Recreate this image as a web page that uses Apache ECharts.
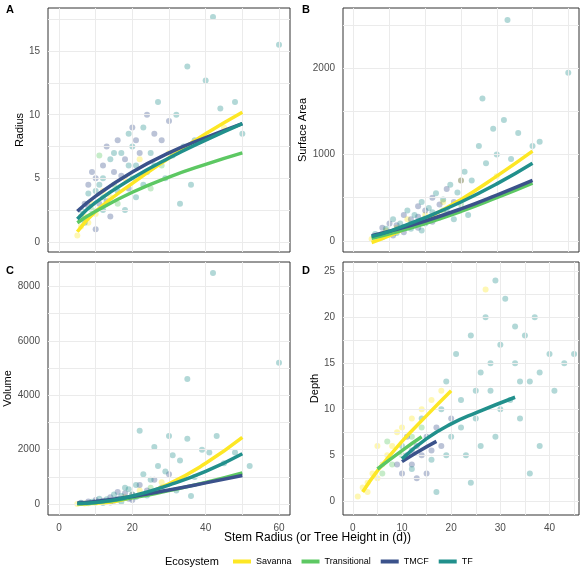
<!DOCTYPE html><html><head><meta charset="utf-8"><script src="https://cdn.jsdelivr.net/npm/echarts@6/dist/echarts.min.js"></script>
<style>html,body{margin:0;background:#fff}#c{width:587px;height:573px}</style></head><body><div id="c"></div><script>
const ecosystems=['Savanna','Transitional','TMCF','TF'];
const colors=['#FDE725','#5DC863','#3B528B','#21908C'];
const fitX=[5,10,20,30,40,50];
const fitA=[[0.8,2.4,4.6,6.6,8.5,10.2],[1.5,2.4,3.9,5.1,6.1,7.0],[2.4,3.6,5.5,7,8.2,9.3],[1.8,3.1,5,6.6,8,9.3]];
const fitB=[[-20,60,250,480,750,1040],[30,80,200,340,500,670],[60,110,230,370,530,700],[50,110,270,450,660,900]];
const fitC=[[0,30,250,750,1500,2450],[10,50,230,500,800,1150],[40,100,280,520,780,1050],[20,60,300,700,1200,1850]];
const fitD=[[[2,1],[5,3.3],[10,6.5],[15,9.3],[20,12]],[[5,3.5],[10,5.5],[14,7]],[[10,4.3],[13,5.3],[17,6.5]],[[10,4.6],[15,6.8],[20,8.4],[25,9.6],[33,11.3]]];
const ptsA=[[5,0.5,0],[6,1.2,0],[7,2,0],[8,1.5,0],[9,3,0],[10,2.2,0],[12,4,0],[14,3.5,0],[18,5,0],[22,6.5,0],[30,7,0],[45,9,0],[6,2,1],[9,2.5,1],[12,3.5,1],[15,4.5,1],[20,5,1],[25,4.2,1],[28,6,1],[7,3,2],[8,4.5,2],[10,5,2],[11,3,2],[12,6,2],[13,7.5,2],[15,5.5,2],[16,8,2],[18,6.5,2],[20,9,2],[22,7,2],[24,10,2],[26,8.5,2],[30,9.5,2],[10,1,2],[14,2,2],[6,2.5,3],[8,3.8,3],[10,4,3],[12,5,3],[14,6.5,3],[16,4,3],[17,7,3],[19,8.5,3],[21,6,3],[23,9,3],[25,7,3],[27,11,3],[29,5,3],[32,10,3],[35,13.8,3],[37,8,3],[40,12.7,3],[42,17.7,3],[44,10.5,3],[48,11,3],[50,8.5,3],[60,15.5,3],[33,3,3],[36,4.5,3],[18,2.5,3],[21,3.5,3],[24,5.5,3],[11,6.8,1],[19,4.2,2],[26,6,3],[9,5.5,2],[11,4.5,3],[13,3.2,2],[15,7,3],[17,5.2,2],[19,6,3],[21,8,2],[23,4.5,3],[8,2.8,2],[16,3,1],[20,7.5,3],[28,8,2],[31,6.8,3],[34,7.5,3],[12,2.5,3],[7,1.5,3]];
const ptsB=[[5,20,0],[7,60,0],[9,120,0],[12,150,0],[15,250,0],[20,300,0],[25,450,0],[30,700,0],[40,750,0],[8,80,1],[12,130,1],[16,200,1],[20,260,1],[25,350,1],[30,420,1],[6,50,2],[8,150,2],[10,200,2],[12,180,2],[14,300,2],[16,250,2],[18,400,2],[20,350,2],[22,500,2],[24,420,2],[26,600,2],[28,450,2],[30,700,2],[14,100,2],[18,150,2],[22,220,2],[6,80,3],[9,140,3],[11,250,3],[13,200,3],[15,350,3],[17,300,3],[19,450,3],[21,380,3],[23,550,3],[25,480,3],[27,650,3],[29,560,3],[31,800,3],[33,700,3],[35,1100,3],[37,900,3],[40,1000,3],[42,1400,3],[44,950,3],[46,1250,3],[50,1100,3],[52,1150,3],[43,2560,3],[60,1950,3],[39,1300,3],[36,1650,3],[32,300,3],[28,250,3],[10,100,2],[12,90,3],[14,160,2],[16,140,3],[18,280,2],[20,200,3],[22,330,3],[24,270,2],[26,360,3],[8,40,3],[11,60,2],[19,120,3]];
const ptsC=[[5,0,0],[7,20,0],[10,50,0],[14,100,0],[18,250,0],[22,500,0],[28,800,0],[8,30,1],[12,80,1],[16,150,1],[20,350,1],[25,600,1],[6,50,2],[8,100,2],[10,150,2],[12,120,2],[14,250,2],[16,200,2],[18,400,2],[20,350,2],[22,700,2],[24,500,2],[26,900,2],[28,600,2],[30,1100,2],[14,60,2],[20,150,2],[6,40,3],[9,90,3],[11,200,3],[13,180,3],[15,350,3],[17,300,3],[19,550,3],[21,700,3],[23,1100,3],[25,900,3],[27,1400,3],[29,1200,3],[31,1800,3],[33,1600,3],[35,2400,3],[37,1000,3],[39,2000,3],[41,1900,3],[43,2500,3],[45,1500,3],[48,1900,3],[52,1400,3],[35,4600,3],[42,8500,3],[60,5200,3],[22,2700,3],[30,2500,3],[26,2100,3],[36,300,3],[32,500,3],[10,80,2],[12,40,3],[15,120,2],[17,90,3],[19,200,2],[21,260,3],[24,320,3],[18,600,3],[16,450,2]];
const ptsD=[[1,0.5,0],[2,1.5,0],[3,2,0],[4,3,0],[5,2.5,0],[6,4,0],[7,5,0],[8,6,0],[9,7.5,0],[10,8,0],[12,9,0],[14,10,0],[16,11,0],[18,12,0],[3,1,0],[5,6,0],[27,23,0],[6,3,1],[8,4,1],[10,5,1],[12,7,1],[14,8,1],[7,6.5,1],[9,4,2],[10,3,2],[11,5,2],[12,4,2],[13,6,2],[14,5,2],[15,7,2],[16,5.5,2],[17,8,2],[18,6,2],[20,9,2],[11,7,2],[13,2.5,2],[10,6,3],[12,3.5,3],[14,9,3],[16,4.5,3],[18,10,3],[19,13,3],[20,7,3],[21,16,3],[22,11,3],[23,5,3],[24,18,3],[25,9,3],[26,14,3],[27,20,3],[28,12,3],[29,7,3],[30,17,3],[31,22,3],[32,11,3],[33,15,3],[34,9,3],[35,18,3],[36,13,3],[37,20,3],[38,6,3],[40,16,3],[41,12,3],[43,15,3],[45,16,3],[29,24,3],[24,2,3],[17,1,3],[36,3,3],[22,8,3],[26,6,3],[30,10,3],[34,13,3],[38,14,3],[15,3,2],[12,5.5,2],[19,5,3],[25,12,3],[28,15,3],[33,19,3]];
const names=['Radius','Surface Area','Volume','Depth'];
const grids=[{left:48,top:8,width:242,height:244},{left:343,top:8,width:236,height:244},{left:48,top:262,width:242,height:253},{left:343,top:262,width:236,height:253}];
const xr=[[-3,63,20],[-3,63,20],[-3,63,20],[-2,46,10]];
const yr=[[-0.8,18.4,5],[-130,2700,1000],[-400,8900,2000],[-1.5,26,5]];
const gl={show:true,lineStyle:{color:'#ebebeb',width:1}};
const xAxis=[],yAxis=[],series=[];
const pts=[ptsA,ptsB,ptsC,ptsD];
const fits=[fitA,fitB,fitC];
for(let i=0;i<4;i++)for(let e=0;e<4;e++){
 const d=i<3?fitX.map((x,k)=>[x,fits[i][e][k]]):fitD[e];
 series.push({type:'line',name:ecosystems[e],xAxisIndex:i,yAxisIndex:i,data:d,smooth:true,showSymbol:false,
  lineStyle:{color:colors[e],width:3.5},itemStyle:{color:colors[e]},z:5});
}
grids.forEach((g,i)=>{
 const xv=i==3?[0,10,20,30,40]:[0,20,40,60];
 xAxis.push({type:'value',gridIndex:i,min:xr[i][0],max:xr[i][1],
  axisLabel:{show:i>=2,color:'#4d4d4d',fontSize:10,customValues:xv},
  axisTick:{show:true,customValues:xv,length:3,lineStyle:{color:'#333'}},
  axisLine:{show:false},splitLine:{show:false}});
 const yv={0:[0,5,10,15],1:[0,1000,2000],2:[0,2000,4000,6000,8000],3:[0,5,10,15,20,25]}[i];
 yAxis.push({type:'value',gridIndex:i,min:yr[i][0],max:yr[i][1],name:names[i],nameLocation:'middle',nameGap:i==1?30:i==2?32:22,nameTextStyle:{fontSize:11,color:'#000'},
  axisLabel:{color:'#4d4d4d',fontSize:10,customValues:yv,formatter:v=>String(v)},axisTick:{show:true,customValues:yv,length:3,lineStyle:{color:'#333'}},
  axisLine:{show:false},splitLine:{show:false}});
 for(let e=0;e<4;e++){
  series.push({type:'scatter',name:ecosystems[e],xAxisIndex:i,yAxisIndex:i,symbolSize:6,
   itemStyle:{color:colors[e],opacity:0.35},data:pts[i].filter(p=>p[2]==e).map(p=>[p[0],p[1]]),z:2});
 }
});
const gx={0:[0,10,20,30,40,50,60],3:[0,5,10,15,20,25,30,35,40,45]};
const gy={0:[0,2.5,5,7.5,10,12.5,15,17.5],1:[0,500,1000,1500,2000,2500],2:[0,1000,2000,3000,4000,5000,6000,7000,8000],3:[0,2.5,5,7.5,10,12.5,15,17.5,20,22.5,25]};
for(let i=0;i<4;i++)series.push({type:'line',xAxisIndex:i,yAxisIndex:i,data:[],z:0,silent:true,
 markLine:{symbol:'none',silent:true,label:{show:false},lineStyle:{color:'#ebebeb',type:'solid',width:1},
  data:gy[i].map(v=>({yAxis:v})).concat((i==3?gx[3]:gx[0]).map(v=>({xAxis:v})))}});
const chart=echarts.init(document.getElementById('c'));
chart.setOption({animation:false,
 grid:grids.map(g=>Object.assign({show:true,borderColor:'#333',borderWidth:1,backgroundColor:'#fff'},g)),
 xAxis,yAxis,series,
 legend:{data:ecosystems.map((n,e)=>({name:n,itemStyle:{color:colors[e],opacity:1}})),bottom:2,left:228,icon:'rect',itemWidth:18,itemHeight:4,itemGap:10,textStyle:{fontSize:9,color:'#000'}},
 graphic:[
  {type:'text',left:165,bottom:6,style:{text:'Ecosystem',fontSize:11,fill:'#000'}},
  {type:'text',left:224,top:532,style:{text:'Stem Radius (or Tree Height in (d))',fontSize:12,fill:'#000'}},
  {type:'text',left:6,top:4,style:{text:'A',fontSize:11,fontWeight:'bold'}},
  {type:'text',left:302,top:4,style:{text:'B',fontSize:11,fontWeight:'bold'}},
  {type:'text',left:6,top:265,style:{text:'C',fontSize:11,fontWeight:'bold'}},
  {type:'text',left:302,top:265,style:{text:'D',fontSize:11,fontWeight:'bold'}}
 ]});
</script></body></html>
